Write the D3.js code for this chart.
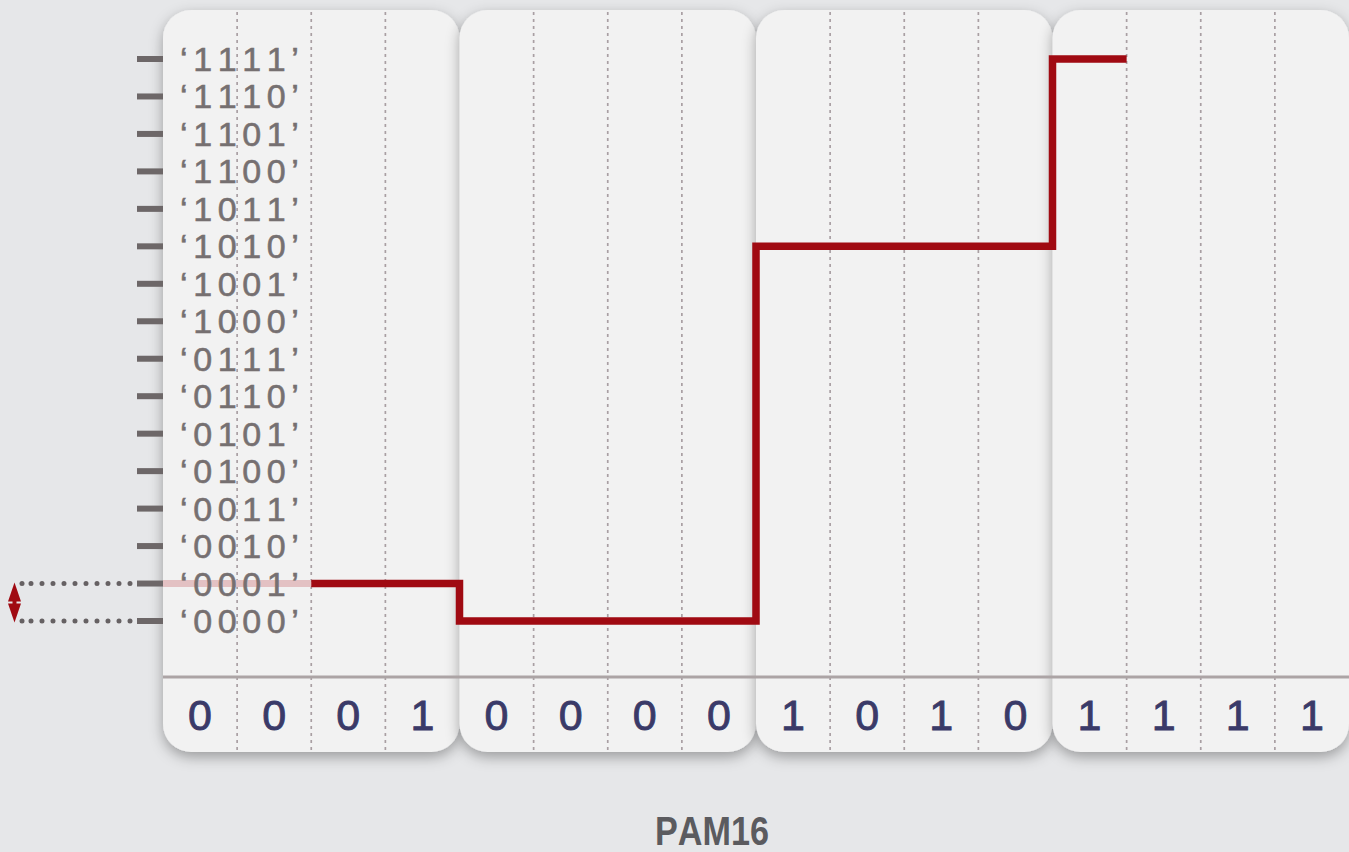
<!DOCTYPE html>
<html><head><meta charset="utf-8">
<script src="https://cdn.jsdelivr.net/npm/d3@7"></script>
<style>html,body{margin:0;padding:0;background:#e6e7e9;overflow:hidden} text{font-kerning:none}</style>
</head><body><svg id="c" width="1349" height="852"></svg>
<script>
const levelLabels = ['0000','0001','0010','0011','0100','0101','0110','0111','1000','1001','1010','1011','1100','1101','1110','1111'];
const symbolValues = [1, 0, 10, 15];
const bitLabels = ['0','0','0','1','0','0','0','0','1','0','1','0','1','1','1','1'];
const drawnRange = [2, 13];
const titleText = 'PAM16';

const svg = d3.select('#c');
const x = d3.scaleLinear().domain([0, 16]).range([163, 1349]);
const y = d3.scaleLinear().domain([0, 15]).range([621, 59]);
const panelTop = 10, panelBottom = 752, sepY = 677;

const defs = svg.append('defs');
const f = defs.append('filter').attr('id','sh').attr('x','-20%').attr('y','-20%').attr('width','140%').attr('height','140%');
f.append('feDropShadow').attr('dx',0).attr('dy',5).attr('stdDeviation',7).attr('flood-color','#000').attr('flood-opacity',0.33);

svg.append('rect').attr('width',1349).attr('height',852).attr('fill','#e6e7e9');

// panels
const nSym = symbolValues.length;
symbolValues.forEach((v,i)=>{
  const g = svg.append('g');
  g.append('rect').attr('x', x(4*i)).attr('y', panelTop).attr('width', x(4*i+4)-x(4*i)).attr('height', panelBottom-panelTop)
    .attr('rx',28).attr('fill','#f2f2f2').attr('filter','url(#sh)');
  for (let k=1;k<4;k++){
    g.append('line').attr('x1',x(4*i+k)).attr('x2',x(4*i+k)).attr('y1',panelTop+2).attr('y2',panelBottom-2)
      .attr('stroke','#a99fa3').attr('stroke-width',1.7).attr('stroke-dasharray','3,4');
  }
});

// separator
svg.append('line').attr('x1',x(0)).attr('x2',x(16)).attr('y1',sepY).attr('y2',sepY).attr('stroke','#aca4a5').attr('stroke-width',3);

// bit labels
svg.selectAll('text.bit').data(bitLabels).join('text').attr('class','bit')
  .attr('x',(d,i)=>x(i+0.5)).attr('y',730).attr('text-anchor','middle')
  .attr('font-family','Liberation Sans, Arial, sans-serif').attr('font-size',43).attr('fill','#3a3a68')
  .attr('stroke','#3a3a68').attr('stroke-width',0.9).text(d=>d);

// ticks
svg.selectAll('rect.tick').data(levelLabels).join('rect').attr('class','tick')
  .attr('x',137).attr('y',(d,i)=>y(i)-3).attr('width',26).attr('height',6).attr('fill','#6d6768');

// pink faded line
const line = d3.line().x(d=>x(d[0])).y(d=>y(d[1])).curve(d3.curveStepAfter);
svg.append('path').attr('d', line([[0,symbolValues[0]],[drawnRange[0],symbolValues[0]]]))
  .attr('fill','none').attr('stroke','#e3c1c3').attr('stroke-width',7);

// level labels
svg.selectAll('text.lvl').data(levelLabels).join('text').attr('class','lvl')
  .attr('x',180).attr('y',(d,i)=>y(i)+12)
  .attr('font-family','Liberation Sans, Arial, sans-serif').attr('font-size',34).attr('letter-spacing',5.6)
  .attr('fill','#767071').attr('stroke','#767071').attr('stroke-width',0.6).text(d=>'\u2018'+d+'\u2019');

// red step line
const pts = [];
pts.push([drawnRange[0], symbolValues[Math.floor(drawnRange[0]/4)]]);
for (let i=1;i<nSym;i++){ if (4*i < drawnRange[1]) pts.push([4*i, symbolValues[i]]); }
pts.push([drawnRange[1], symbolValues[Math.floor((drawnRange[1]-0.001)/4)]]);
svg.append('path').attr('d', line(pts)).attr('fill','none').attr('stroke','#a00a12').attr('stroke-width',7.5).attr('stroke-linejoin','miter');

// dotted guides
[1,0].forEach(l=>{
  svg.append('line').attr('x1',31).attr('x2',133).attr('y1',y(l)).attr('y2',y(l))
    .attr('stroke','#666163').attr('stroke-width',5).attr('stroke-linecap','round').attr('stroke-dasharray','0,11');
  svg.append('circle').attr('cx',22).attr('cy',y(l)).attr('r',2.5).attr('fill','#666163');
});
// double arrow
const ax = 14.5, ay1 = y(1)-1, ay2 = y(0)+1.5;
svg.append('rect').attr('x',ax-2).attr('y',ay1+15).attr('width',4).attr('height',ay2-ay1-30).attr('fill','#a00a12');
svg.append('path').attr('d',`M${ax},${ay1} L${ax-6.5},${ay1+19} L${ax+6.5},${ay1+19} Z`).attr('fill','#a00a12');
svg.append('path').attr('d',`M${ax},${ay2} L${ax-6.5},${ay2-19} L${ax+6.5},${ay2-19} Z`).attr('fill','#a00a12');

// title
svg.append('text').attr('x',712).attr('y',845).attr('text-anchor','middle')
  .attr('font-family','Liberation Sans, Arial, sans-serif').attr('font-weight','bold')
  .attr('font-size',40).attr('textLength',114).attr('lengthAdjust','spacingAndGlyphs')
  .attr('fill','#5b5b5f').text(titleText);
</script></body></html>
